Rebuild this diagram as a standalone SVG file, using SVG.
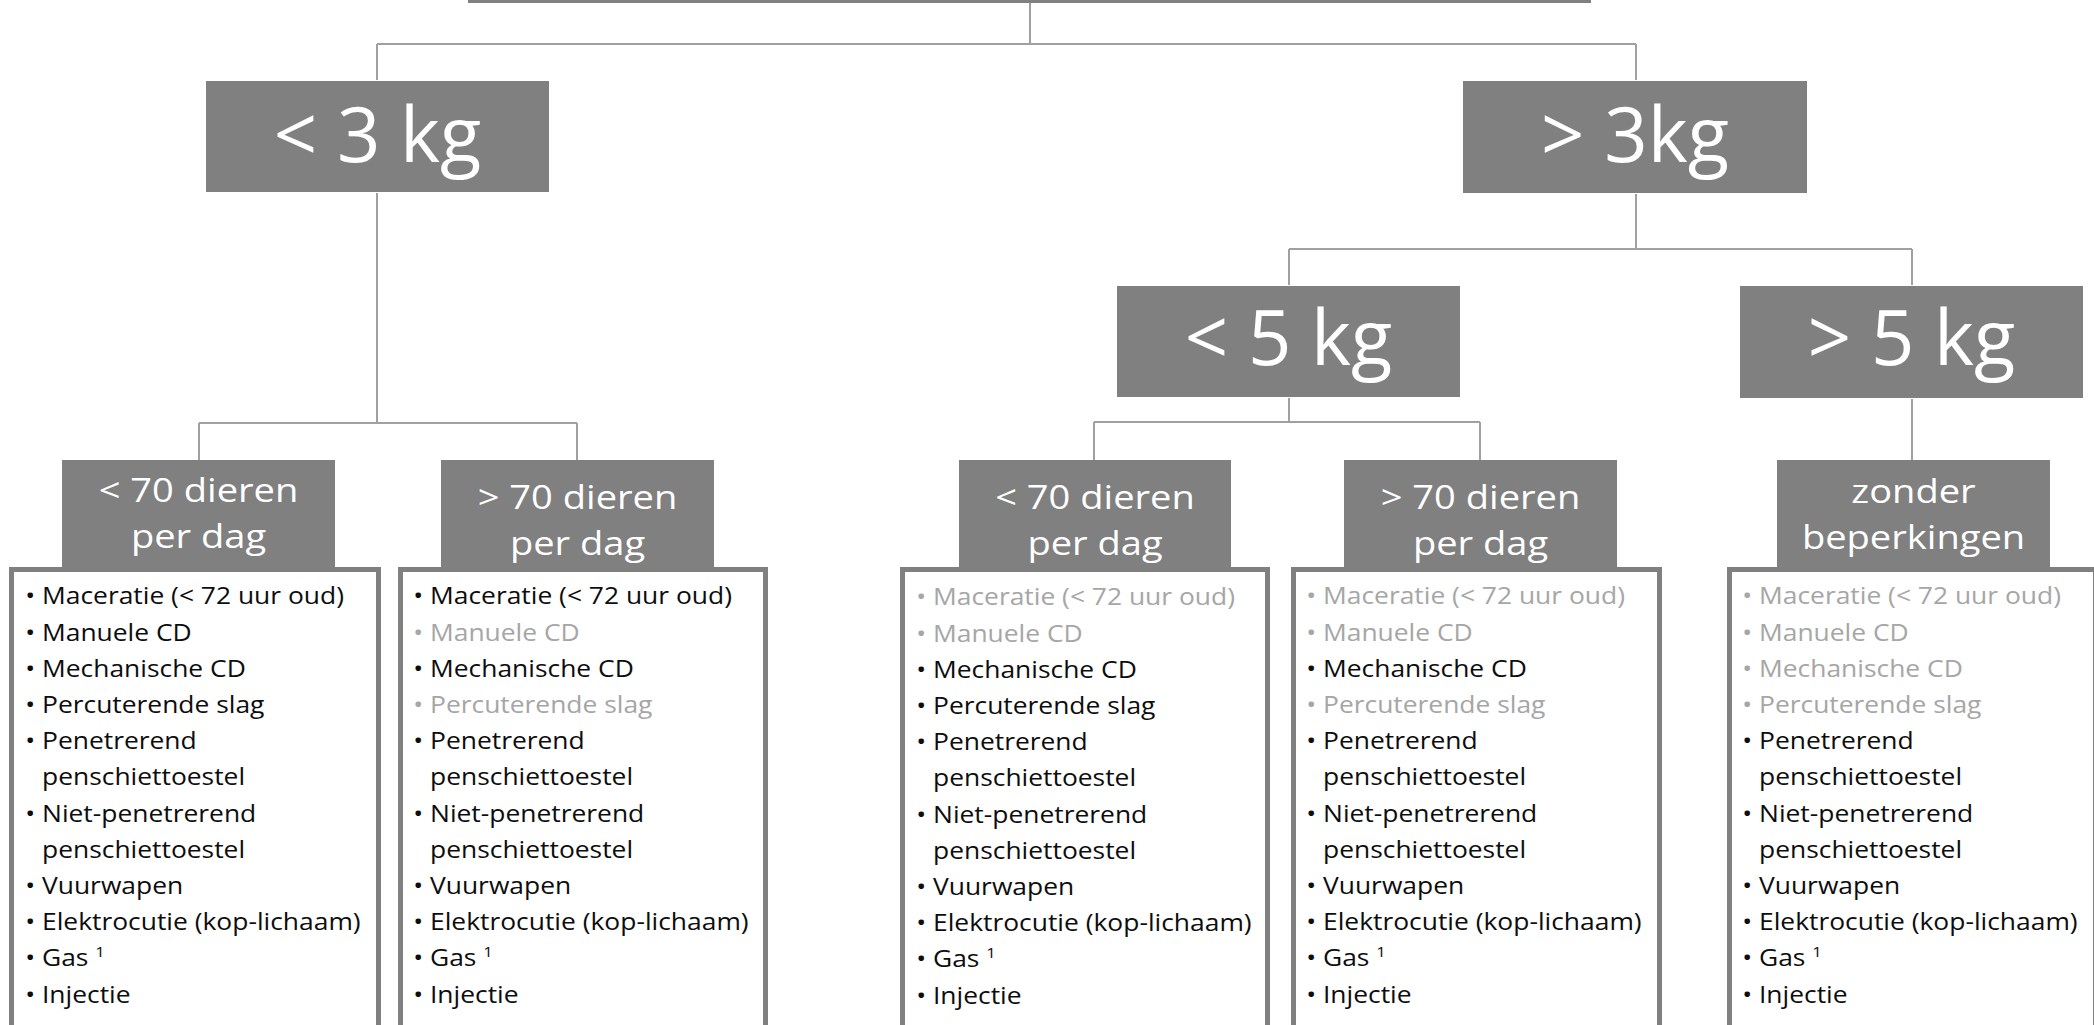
<svg xmlns="http://www.w3.org/2000/svg" width="2094" height="1025" viewBox="0 0 2094 1025">
<style>
.bg{fill:#ffffff}
.hdr{fill:#808080}
.big{font-family:'Open Sans',sans-serif;font-size:76px;fill:#ffffff;text-anchor:middle}
.mid{font-family:'Open Sans',sans-serif;font-size:32px;fill:#ffffff;text-anchor:middle}
.lbox{fill:#ffffff;stroke:#808080;stroke-width:5}
.li{font-family:'Open Sans',sans-serif;font-size:23.8px}
.k{fill:#0d0d0d}
.g{fill:#a6a6a6}
.sup{font-size:15px}
.conn{fill:none;stroke:#a0a0a0;stroke-width:2}
</style>
<rect class="bg" x="0" y="0" width="2094" height="1025"/>
<rect x="468" y="0" width="1123" height="3" fill="#808080"/>
<g id="connectors" class="conn">
<path d="M1030 3V44"/>
<path d="M377 44H1636"/>
<path d="M377 44V80"/>
<path d="M1636 44V80"/>
<path d="M377 193V423"/>
<path d="M199 423H577"/>
<path d="M199 423V460"/>
<path d="M577 423V460"/>
<path d="M1636 194V249"/>
<path d="M1289 249H1912"/>
<path d="M1289 249V285"/>
<path d="M1912 249V285"/>
<path d="M1289 398V422"/>
<path d="M1094 422H1480"/>
<path d="M1094 422V460"/>
<path d="M1480 422V460"/>
<path d="M1912 399V460"/>
</g>
<g id="n-lt3">
<rect class="hdr" x="206" y="81" width="343" height="111"/>
<text class="big" x="377.5" y="162">&lt; 3 kg</text>
</g>
<g id="n-gt3">
<rect class="hdr" x="1463" y="81" width="344" height="112"/>
<text class="big" x="1635" y="162">&gt; 3kg</text>
</g>
<g id="n-lt5">
<rect class="hdr" x="1117" y="286" width="343" height="111"/>
<text class="big" x="1288.5" y="365">&lt; 5 kg</text>
</g>
<g id="n-gt5">
<rect class="hdr" x="1740" y="286" width="343" height="112"/>
<text class="big" x="1911.5" y="365">&gt; 5 kg</text>
</g>
<g id="n-a1">
<rect class="hdr" x="62" y="460" width="273" height="108"/>
<g transform="translate(198.5 0) scale(1.19 1)"><text class="mid" x="0" y="502">&lt; 70 dieren</text><text class="mid" x="0" y="548">per dag</text></g>
</g>
<g id="n-a2">
<rect class="hdr" x="441" y="460" width="273" height="108"/>
<g transform="translate(577.5 0) scale(1.19 1)"><text class="mid" x="0" y="509">&gt; 70 dieren</text><text class="mid" x="0" y="555">per dag</text></g>
</g>
<g id="n-b1">
<rect class="hdr" x="959" y="460" width="272" height="108"/>
<g transform="translate(1095 0) scale(1.19 1)"><text class="mid" x="0" y="509">&lt; 70 dieren</text><text class="mid" x="0" y="555">per dag</text></g>
</g>
<g id="n-b2">
<rect class="hdr" x="1344" y="460" width="273" height="108"/>
<g transform="translate(1480.5 0) scale(1.19 1)"><text class="mid" x="0" y="509">&gt; 70 dieren</text><text class="mid" x="0" y="555">per dag</text></g>
</g>
<g id="n-c1">
<rect class="hdr" x="1777" y="460" width="273" height="108"/>
<g transform="translate(1913.5 0) scale(1.19 1)"><text class="mid" x="0" y="503">zonder</text><text class="mid" x="0" y="549">beperkingen</text></g>
</g>
<g id="n-list1">
<rect class="lbox" x="11.5" y="569.5" width="367" height="458"/>
<g class="li" transform="translate(42 0) scale(1.11 1)">
<text class="k" y="604.5"><tspan x="-15">•</tspan><tspan x="0">Maceratie (&lt; 72 uur oud)</tspan></text>
<text class="k" y="640.7"><tspan x="-15">•</tspan><tspan x="0">Manuele CD</tspan></text>
<text class="k" y="676.9"><tspan x="-15">•</tspan><tspan x="0">Mechanische CD</tspan></text>
<text class="k" y="713.1"><tspan x="-15">•</tspan><tspan x="0">Percuterende slag</tspan></text>
<text class="k" y="749.3"><tspan x="-15">•</tspan><tspan x="0">Penetrerend</tspan></text>
<text class="k" x="0" y="785.5">penschiettoestel</text>
<text class="k" y="821.7"><tspan x="-15">•</tspan><tspan x="0">Niet-penetrerend</tspan></text>
<text class="k" x="0" y="857.9">penschiettoestel</text>
<text class="k" y="894.1"><tspan x="-15">•</tspan><tspan x="0">Vuurwapen</tspan></text>
<text class="k" y="930.3"><tspan x="-15">•</tspan><tspan x="0">Elektrocutie (kop-lichaam)</tspan></text>
<text class="k" y="966.5"><tspan x="-15">•</tspan><tspan x="0">Gas </tspan><tspan class="sup" dy="-9">1</tspan></text>
<text class="k" y="1002.7"><tspan x="-15">•</tspan><tspan x="0">Injectie</tspan></text>
</g>
</g>
<g id="n-list2">
<rect class="lbox" x="400.5" y="569.5" width="365" height="458"/>
<g class="li" transform="translate(430 0) scale(1.11 1)">
<text class="k" y="604.5"><tspan x="-15">•</tspan><tspan x="0">Maceratie (&lt; 72 uur oud)</tspan></text>
<text class="g" y="640.7"><tspan x="-15">•</tspan><tspan x="0">Manuele CD</tspan></text>
<text class="k" y="676.9"><tspan x="-15">•</tspan><tspan x="0">Mechanische CD</tspan></text>
<text class="g" y="713.1"><tspan x="-15">•</tspan><tspan x="0">Percuterende slag</tspan></text>
<text class="k" y="749.3"><tspan x="-15">•</tspan><tspan x="0">Penetrerend</tspan></text>
<text class="k" x="0" y="785.5">penschiettoestel</text>
<text class="k" y="821.7"><tspan x="-15">•</tspan><tspan x="0">Niet-penetrerend</tspan></text>
<text class="k" x="0" y="857.9">penschiettoestel</text>
<text class="k" y="894.1"><tspan x="-15">•</tspan><tspan x="0">Vuurwapen</tspan></text>
<text class="k" y="930.3"><tspan x="-15">•</tspan><tspan x="0">Elektrocutie (kop-lichaam)</tspan></text>
<text class="k" y="966.5"><tspan x="-15">•</tspan><tspan x="0">Gas </tspan><tspan class="sup" dy="-9">1</tspan></text>
<text class="k" y="1002.7"><tspan x="-15">•</tspan><tspan x="0">Injectie</tspan></text>
</g>
</g>
<g id="n-list3">
<rect class="lbox" x="902.5" y="569.5" width="365" height="458"/>
<g class="li" transform="translate(933 0) scale(1.11 1)">
<text class="g" y="605.5"><tspan x="-15">•</tspan><tspan x="0">Maceratie (&lt; 72 uur oud)</tspan></text>
<text class="g" y="641.7"><tspan x="-15">•</tspan><tspan x="0">Manuele CD</tspan></text>
<text class="k" y="677.9"><tspan x="-15">•</tspan><tspan x="0">Mechanische CD</tspan></text>
<text class="k" y="714.1"><tspan x="-15">•</tspan><tspan x="0">Percuterende slag</tspan></text>
<text class="k" y="750.3"><tspan x="-15">•</tspan><tspan x="0">Penetrerend</tspan></text>
<text class="k" x="0" y="786.5">penschiettoestel</text>
<text class="k" y="822.7"><tspan x="-15">•</tspan><tspan x="0">Niet-penetrerend</tspan></text>
<text class="k" x="0" y="858.9">penschiettoestel</text>
<text class="k" y="895.1"><tspan x="-15">•</tspan><tspan x="0">Vuurwapen</tspan></text>
<text class="k" y="931.3"><tspan x="-15">•</tspan><tspan x="0">Elektrocutie (kop-lichaam)</tspan></text>
<text class="k" y="967.5"><tspan x="-15">•</tspan><tspan x="0">Gas </tspan><tspan class="sup" dy="-9">1</tspan></text>
<text class="k" y="1003.7"><tspan x="-15">•</tspan><tspan x="0">Injectie</tspan></text>
</g>
</g>
<g id="n-list4">
<rect class="lbox" x="1293.5" y="569.5" width="366" height="458"/>
<g class="li" transform="translate(1323 0) scale(1.11 1)">
<text class="g" y="604.5"><tspan x="-15">•</tspan><tspan x="0">Maceratie (&lt; 72 uur oud)</tspan></text>
<text class="g" y="640.7"><tspan x="-15">•</tspan><tspan x="0">Manuele CD</tspan></text>
<text class="k" y="676.9"><tspan x="-15">•</tspan><tspan x="0">Mechanische CD</tspan></text>
<text class="g" y="713.1"><tspan x="-15">•</tspan><tspan x="0">Percuterende slag</tspan></text>
<text class="k" y="749.3"><tspan x="-15">•</tspan><tspan x="0">Penetrerend</tspan></text>
<text class="k" x="0" y="785.5">penschiettoestel</text>
<text class="k" y="821.7"><tspan x="-15">•</tspan><tspan x="0">Niet-penetrerend</tspan></text>
<text class="k" x="0" y="857.9">penschiettoestel</text>
<text class="k" y="894.1"><tspan x="-15">•</tspan><tspan x="0">Vuurwapen</tspan></text>
<text class="k" y="930.3"><tspan x="-15">•</tspan><tspan x="0">Elektrocutie (kop-lichaam)</tspan></text>
<text class="k" y="966.5"><tspan x="-15">•</tspan><tspan x="0">Gas </tspan><tspan class="sup" dy="-9">1</tspan></text>
<text class="k" y="1002.7"><tspan x="-15">•</tspan><tspan x="0">Injectie</tspan></text>
</g>
</g>
<g id="n-list5">
<rect class="lbox" x="1729.5" y="569.5" width="366" height="458"/>
<g class="li" transform="translate(1759 0) scale(1.11 1)">
<text class="g" y="604.5"><tspan x="-15">•</tspan><tspan x="0">Maceratie (&lt; 72 uur oud)</tspan></text>
<text class="g" y="640.7"><tspan x="-15">•</tspan><tspan x="0">Manuele CD</tspan></text>
<text class="g" y="676.9"><tspan x="-15">•</tspan><tspan x="0">Mechanische CD</tspan></text>
<text class="g" y="713.1"><tspan x="-15">•</tspan><tspan x="0">Percuterende slag</tspan></text>
<text class="k" y="749.3"><tspan x="-15">•</tspan><tspan x="0">Penetrerend</tspan></text>
<text class="k" x="0" y="785.5">penschiettoestel</text>
<text class="k" y="821.7"><tspan x="-15">•</tspan><tspan x="0">Niet-penetrerend</tspan></text>
<text class="k" x="0" y="857.9">penschiettoestel</text>
<text class="k" y="894.1"><tspan x="-15">•</tspan><tspan x="0">Vuurwapen</tspan></text>
<text class="k" y="930.3"><tspan x="-15">•</tspan><tspan x="0">Elektrocutie (kop-lichaam)</tspan></text>
<text class="k" y="966.5"><tspan x="-15">•</tspan><tspan x="0">Gas </tspan><tspan class="sup" dy="-9">1</tspan></text>
<text class="k" y="1002.7"><tspan x="-15">•</tspan><tspan x="0">Injectie</tspan></text>
</g>
</g>
</svg>
